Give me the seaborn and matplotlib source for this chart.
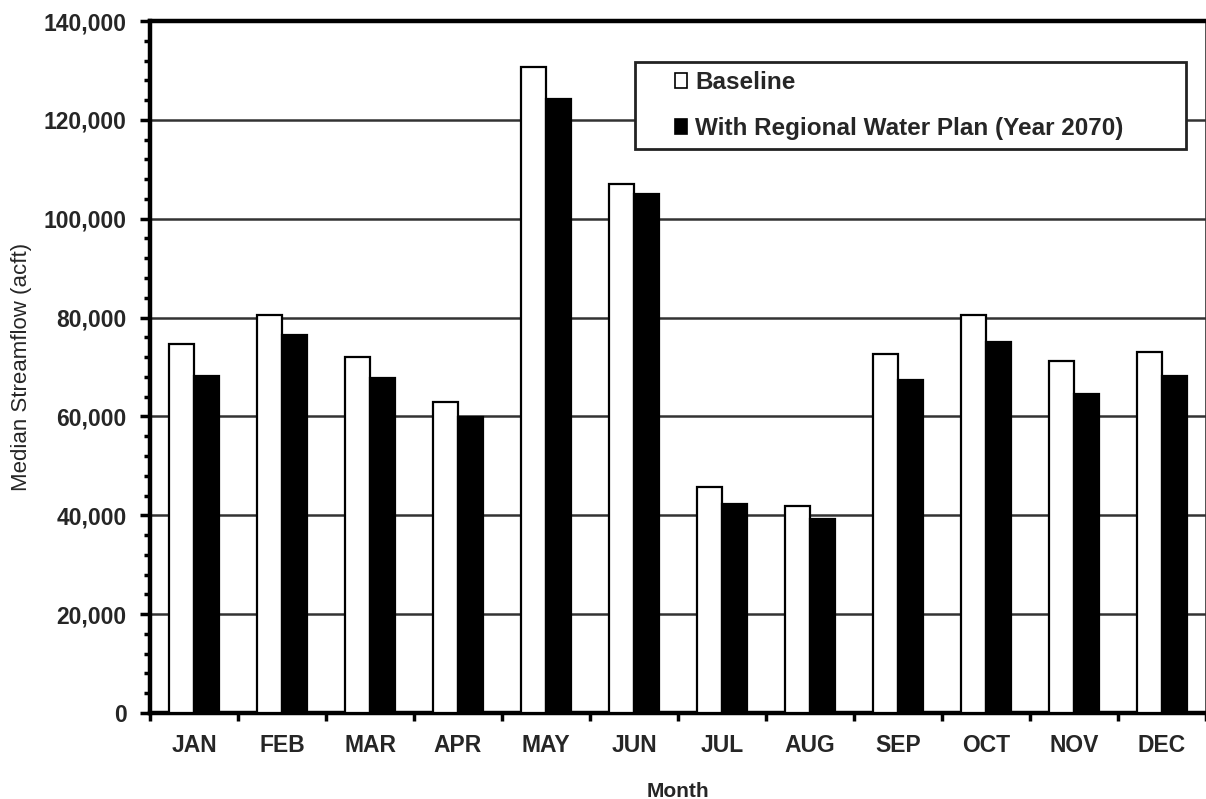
import pandas as pd
import matplotlib.pyplot as plt
import matplotlib.ticker as mticker
from matplotlib.patches import Rectangle
import seaborn as sns

# %%
months = ["JAN", "FEB", "MAR", "APR", "MAY", "JUN", "JUL", "AUG", "SEP", "OCT", "NOV", "DEC"]
baseline = [74600, 80500, 72100, 62900, 130700, 107100, 45800, 41800, 72700, 80500, 71300, 73100]
with_plan = [68200, 76500, 67700, 59900, 124300, 105000, 42300, 39200, 67300, 75000, 64500, 68200]
series_names = ["Baseline", "With Regional Water Plan (Year 2070)"]

df = pd.DataFrame({
    "month": months * 2,
    "flow": baseline + with_plan,
    "scenario": [series_names[0]] * len(months) + [series_names[1]] * len(months),
})

# %%
sns.set_style("white")
plt.rcParams["font.family"] = ["Liberation Sans", "DejaVu Sans"]

fig = plt.figure(figsize=(12.06, 7.99), dpi=100)
ax = fig.add_axes([150 / 1206, 1 - 713 / 799, 1056 / 1206, 692 / 799])

sns.barplot(
    data=df, x="month", y="flow", hue="scenario",
    palette=["white", "black"], edgecolor="black", linewidth=1.6,
    width=0.57, gap=0, ax=ax, zorder=3,
)

ax.set_ylim(0, 140000)
ax.set_xlim(-0.5, len(months) - 0.5)

# сетка только по основным делениям
ax.yaxis.set_major_locator(mticker.MultipleLocator(20000))
ax.yaxis.set_minor_locator(mticker.MultipleLocator(4000))
ax.yaxis.set_major_formatter(mticker.FuncFormatter(lambda v, p: f"{v:,.0f}"))
ax.grid(axis="y", which="major", color="#333333", linewidth=1.8, zorder=0)
ax.set_axisbelow(True)

ax.set_xticks(range(len(months)))
ax.set_xticklabels(months)
ax.set_xticks([i - 0.5 for i in range(len(months) + 1)], minor=True)
ax.tick_params(axis="x", which="major", length=0, pad=15, labelsize=16.5)
ax.tick_params(axis="x", which="minor", direction="out", length=6, width=2.5, color="black", bottom=True)
ax.tick_params(axis="y", which="major", direction="out", length=7, width=2.5, color="black", left=True, labelsize=16.5, pad=10)
ax.tick_params(axis="y", which="minor", direction="out", length=4, width=2.5, color="black", left=True)
for lab in ax.get_xticklabels() + ax.get_yticklabels():
    lab.set_fontweight("bold")

for side in ["left", "bottom", "top"]:
    ax.spines[side].set_linewidth(3.2)
    ax.spines[side].set_color("black")
ax.spines["right"].set_linewidth(1.2)
ax.spines["right"].set_color("#333333")

ax.set_xlabel("Month", fontsize=15, fontweight="bold", labelpad=18)
ax.set_ylabel("Median Streamflow (acft)", fontsize=16, labelpad=8)

# рамка легенды отдельно, чтобы был отступ слева как в оригинале
box = Rectangle((0.459, 0.815), 0.522, 0.126, transform=ax.transAxes,
                facecolor="white", edgecolor="#222222", linewidth=2, zorder=4)
ax.add_patch(box)

handles, labels = ax.get_legend_handles_labels()
leg = ax.legend(
    handles, labels, loc="center left", bbox_to_anchor=(0.497, 0.878),
    frameon=False, prop={"weight": "bold", "size": 17.5},
    handlelength=0.5, handleheight=0.55, handletextpad=0.35,
    labelspacing=0.95, borderpad=0, borderaxespad=0,
)
leg.set_zorder(5)
for h in leg.legend_handles:
    h.set_linewidth(1.2)

fig.savefig("out.png", dpi=100)
